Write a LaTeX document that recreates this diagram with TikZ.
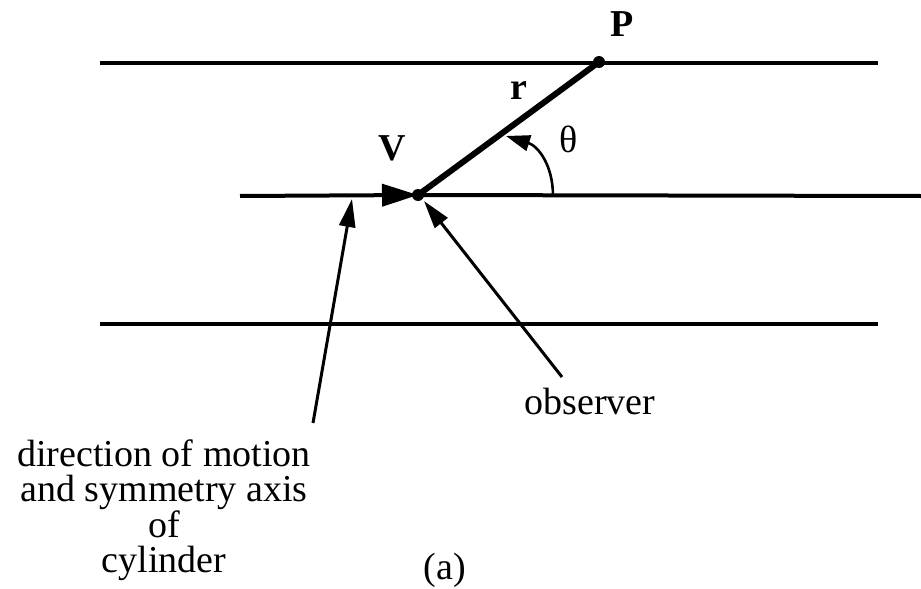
\documentclass[tikz,border=0pt]{standalone}
\usepackage{fontspec}
\setmainfont{Liberation Serif}
\usetikzlibrary{arrows.meta}
\begin{document}
\begin{tikzpicture}[x=0.5pt,y=-0.5pt,
		wall/.style={line width=2pt},
		pointer/.style={line width=1.5pt,-{Triangle[length=14pt,width=8pt]}},
		lbl/.style={font=\fontsize{19}{17.75}\selectfont, inner sep=0pt},
		blbl/.style={lbl, font=\fontsize{19}{17.75}\selectfont\bfseries}]
	\useasboundingbox (0,0) rectangle (921,589);
	\foreach \y in {63,324}{
		\draw[wall] (100,\y) -- (878,\y);}
	\coordinate (O) at (418,195);
	\coordinate (P) at (599,62);
	\coordinate (axL) at (240,196);
	\coordinate (axR) at (921,196);
	\draw[wall,-{Triangle[length=18pt,width=11pt]}] (axL) -- (O);
	\draw[wall] (O) -- (axR);
	\draw[line width=3pt] (O) -- (P);
	\fill (O) circle (3pt);
	\fill (P) circle (3pt);
	% angle
	\coordinate (thS) at (553,196);
	\coordinate (thE) at (506,136);
	\draw[line width=1.3pt,-{Triangle[length=12pt,width=8pt]}] (thS) .. controls (553,165) and (538,146) .. (thE);
	% labels
	\node[blbl] (Plab) at (622,24) {P};
	\node[blbl] (Vlab) at (392,148) {V};
	\node[blbl] (rlab) at (519,91) {r};
	\node[lbl] (thlab) at (569,139) {θ};
	\node[lbl] (obs) at (590,401) {observer};
	\node[lbl, align=center] (dir) at (164,510) {direction of motion\\and symmetry axis\\of\\cylinder};
	\node[lbl] (cap) at (445,570) {(a)};
	% pointers
	\coordinate (axTip) at (352,199);
	\coordinate (dirTail) at (313,423);
	\coordinate (obTip) at (424,201);
	\coordinate (obTail) at (562,377);
	\draw[pointer] (dirTail) -- (axTip);
	\draw[pointer] (obTail) -- (obTip);
\end{tikzpicture}
\end{document}
